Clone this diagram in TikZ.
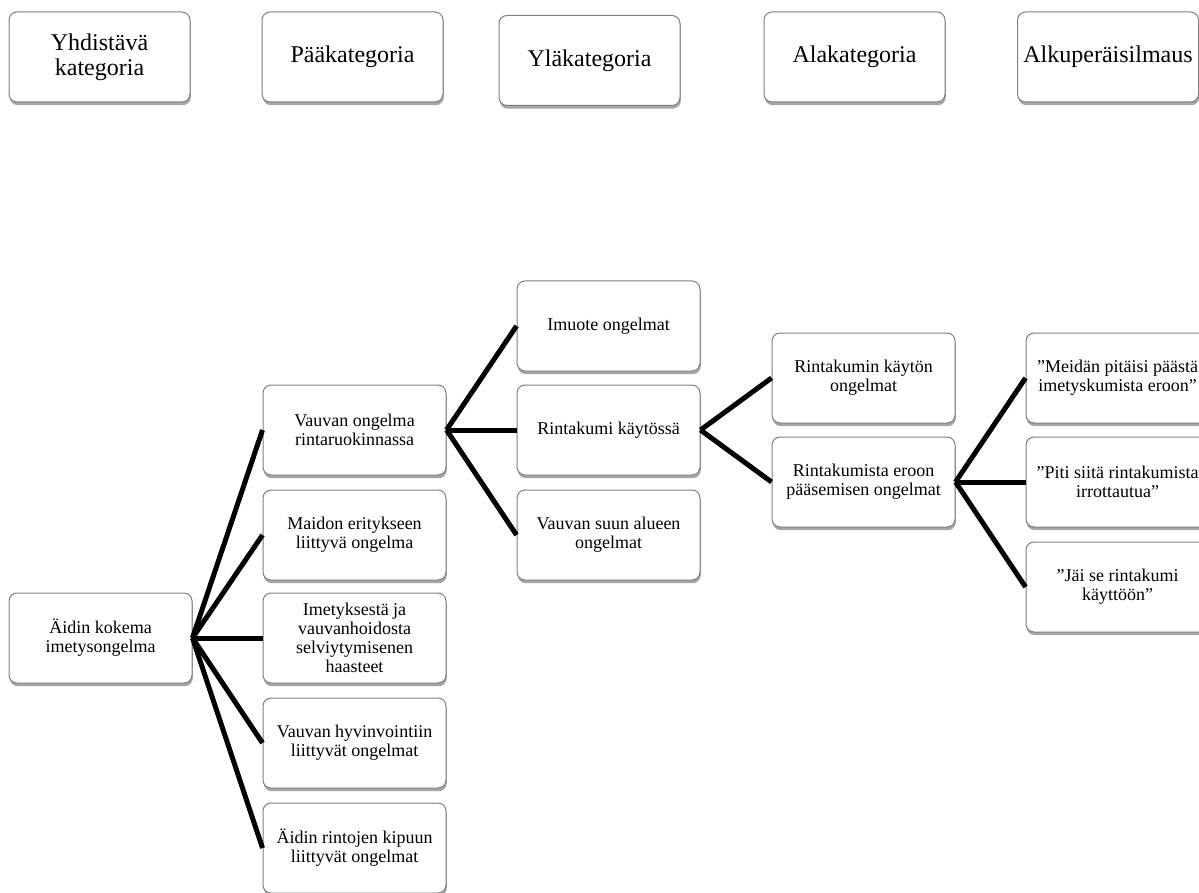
\documentclass[tikz,border=0pt]{standalone}
\usepackage{fontspec}
\setmainfont{Liberation Serif}
\usetikzlibrary{shadows}
\definecolor{boxline}{HTML}{7F7F7F}

\begin{document}
\begin{tikzpicture}[x=0.5pt, y=-0.5pt,
    box/.style={draw=boxline, line width=0.5pt, fill=white, rounded corners=4pt,
        minimum width=91.5pt, minimum height=45pt, inner sep=1pt, align=center,
        font=\fontsize{9}{9.6}\selectfont,
        drop shadow={shadow xshift=0.4pt, shadow yshift=-1.6pt, opacity=0.35, fill=black}},
    hdr/.style={box, minimum width=90.5pt, font=\fontsize{12}{12.5}\selectfont},
    link/.style={line width=2.5pt, black}]
    \useasboundingbox (0,0) rectangle (1199,893);

    % otsikkorivi
    \node[hdr] (yhd)  at (99.5,57)   {Yhdistävä\\kategoria};
    \node[hdr] (paa)  at (352.5,57)  {Pääkategoria};
    \node[hdr] (yla)  at (589.5,60.5) {Yläkategoria};
    \node[hdr] (ala)  at (854.5,57)  {Alakategoria};
    \node[hdr] (alku) at (1108,57)   {Alkuperäisilmaus};

    % yhdistävä ja pääkategoriat
    \node[box] (aiti)   at (100.5,638) {Äidin kokema\\imetysongelma};
    \node[box] (vauva)  at (354.5,430) {Vauvan ongelma\\rintaruokinnassa};
    \node[box] (maito)  at (354.5,535) {Maidon eritykseen\\liittyvä ongelma};
    \node[box] (selviy) at (354.5,638) {Imetyksestä ja\\vauvanhoidosta\\selviytymisenen\\haasteet};
    \node[box] (hyvin)  at (354.5,743) {Vauvan hyvinvointiin\\liittyvät ongelmat};
    \node[box] (kipu)   at (354.5,848) {Äidin rintojen kipuun\\liittyvät ongelmat};

    % ylä- ja alakategoriat
    \node[box] (imuote) at (608.5,326) {Imuote ongelmat};
    \node[box] (kumi)   at (608.5,430) {Rintakumi käytössä};
    \node[box] (suu)    at (608.5,535) {Vauvan suun alueen\\ongelmat};
    \node[box] (kaytto) at (863.5,378) {Rintakumin käytön\\ongelmat};
    \node[box] (eroon)  at (863.5,482) {Rintakumista eroon\\pääsemisen ongelmat};

    % alkuperäisilmaukset
    \node[box] (sit1) at (1117.5,378) {”Meidän pitäisi päästä\\imetyskumista eroon”};
    \node[box] (sit2) at (1117.5,482) {”Piti siitä rintakumista\\irrottautua”};
    \node[box] (sit3) at (1117.5,587) {”Jäi se rintakumi\\käyttöön”};

    \foreach \lapsi in {vauva,maito,selviy,hyvin,kipu}
        \draw[link] (aiti.east) -- (\lapsi.west);
    \foreach \lapsi in {imuote,kumi,suu}
        \draw[link] (vauva.east) -- (\lapsi.west);
    \foreach \lapsi in {kaytto,eroon}
        \draw[link] (kumi.east) -- (\lapsi.west);
    \foreach \lapsi in {sit1,sit2,sit3}
        \draw[link] (eroon.east) -- (\lapsi.west);
\end{tikzpicture}
\end{document}
